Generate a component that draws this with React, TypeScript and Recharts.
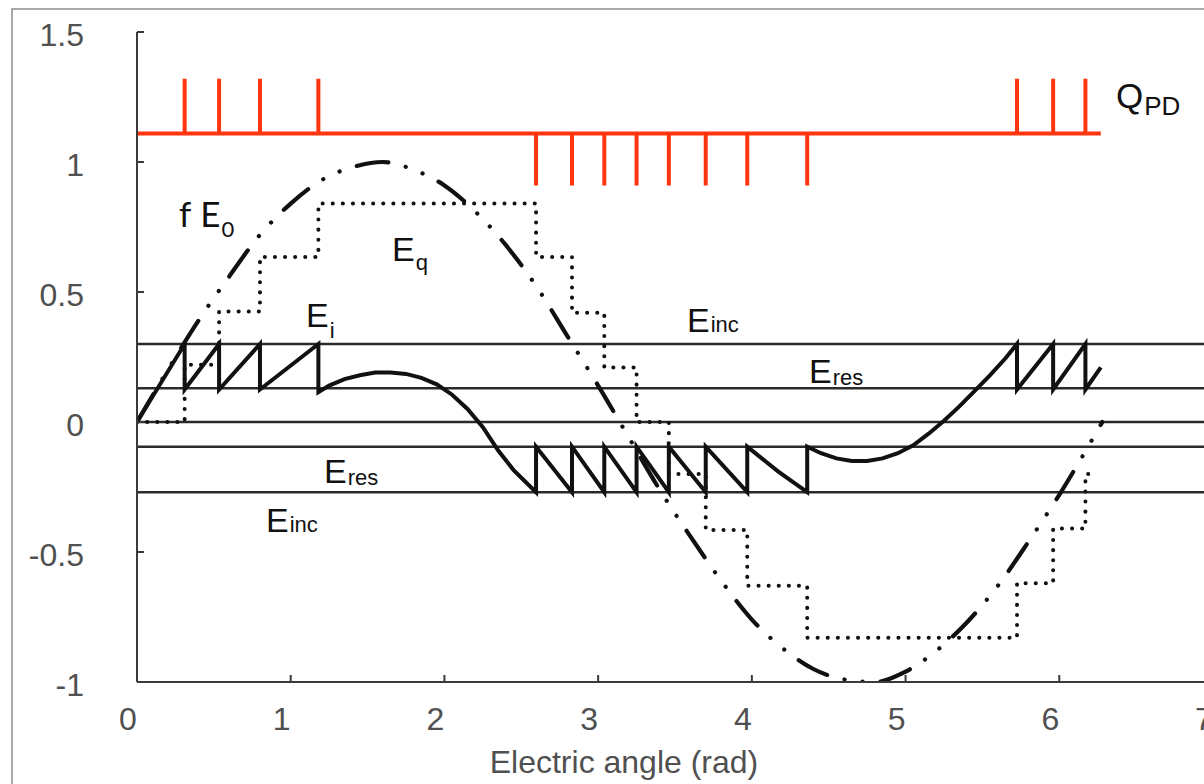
import { LineChart, Line, XAxis, YAxis, ReferenceLine } from 'recharts'

const xTicks = [0, 1, 2, 3, 4, 5, 6, 7]
const yTicks = [-1, -0.5, 0, 0.5, 1, 1.5]

// horizontal threshold lines: Einc, Eres, 0, -Eres, -Einc
const levels = [0.3, 0.13, 0, -0.095, -0.27]

// E0, the applied field (dash-dot-dot)
const e0X = [0, 0.2, 0.4, 0.6, 0.8, 1.0, 1.2, 1.4, 1.6, 1.8, 2.0, 2.2, 2.4, 2.6, 2.8, 3.0, 3.2, 3.4, 3.6, 3.8, 4.0, 4.2, 4.4, 4.6, 4.8, 5.0, 5.2, 5.4, 5.6, 5.8, 6.0, 6.28]
const e0Y = [0, 0.2, 0.39, 0.56, 0.72, 0.84, 0.93, 0.98, 1.0, 0.97, 0.91, 0.81, 0.68, 0.52, 0.33, 0.14, -0.06, -0.26, -0.44, -0.61, -0.76, -0.87, -0.95, -0.99, -1.0, -0.96, -0.88, -0.77, -0.63, -0.46, -0.28, 0]

// Eq, field of the deposited charge (dotted steps)
const eqX = [0, 0.31, 0.31, 0.534, 0.534, 0.8, 0.8, 1.18, 1.18, 2.596, 2.596, 2.83, 2.83, 3.04, 3.04, 3.25, 3.25, 3.46, 3.46, 3.7, 3.7, 3.97, 3.97, 4.36, 4.36, 5.725, 5.725, 5.96, 5.96, 6.17, 6.17, 6.23]
const eqY = [0, 0, 0.22, 0.22, 0.425, 0.425, 0.635, 0.635, 0.84, 0.84, 0.635, 0.635, 0.42, 0.42, 0.21, 0.21, 0, 0, -0.2, -0.2, -0.415, -0.415, -0.63, -0.63, -0.83, -0.83, -0.62, -0.62, -0.41, -0.41, -0.2, -0.2]

// Ei, field in the void (solid sawtooth)
const eiX = [0, 0.31, 0.31, 0.534, 0.534, 0.8, 0.8, 1.18, 1.18, 1.25, 1.35, 1.45, 1.55, 1.65, 1.75, 1.85, 1.95, 2.05, 2.15, 2.25, 2.35, 2.45, 2.596, 2.596, 2.83, 2.83, 3.04, 3.04, 3.25, 3.25, 3.46, 3.46, 3.7, 3.7, 3.97, 3.97, 4.17, 4.36, 4.36, 4.45, 4.55, 4.65, 4.75, 4.85, 4.95, 5.05, 5.15, 5.25, 5.35, 5.45, 5.55, 5.65, 5.725, 5.725, 5.96, 5.96, 6.17, 6.17, 6.27]
const eiY = [0, 0.3, 0.125, 0.3, 0.125, 0.3, 0.125, 0.3, 0.115, 0.14, 0.165, 0.18, 0.19, 0.19, 0.185, 0.17, 0.145, 0.105, 0.05, -0.02, -0.11, -0.185, -0.27, -0.095, -0.27, -0.095, -0.27, -0.095, -0.27, -0.095, -0.27, -0.095, -0.27, -0.095, -0.27, -0.095, -0.19, -0.27, -0.095, -0.12, -0.14, -0.15, -0.15, -0.14, -0.12, -0.09, -0.045, 0.005, 0.06, 0.12, 0.18, 0.245, 0.3, 0.125, 0.3, 0.125, 0.3, 0.125, 0.21]

// QPD pulse train
const qBase = 1.11
const qUpTip = 1.32
const qDownTip = 0.91
const qUp = [0.31, 0.534, 0.8, 1.18, 5.725, 5.96, 6.17]
const qDown = [2.596, 2.83, 3.04, 3.25, 3.46, 3.7, 3.97, 4.36]
const qEnd = 6.27

const zip = (xs: number[], ys: number[]) => xs.map((x, i) => ({ x, y: ys[i] }))

const e0Data = zip(e0X, e0Y)
const eqData = zip(eqX, eqY)
const eiData = zip(eiX, eiY)

const spikes = [
  ...qUp.map(x => ({ x, tip: qUpTip })),
  ...qDown.map(x => ({ x, tip: qDownTip })),
].sort((a, b) => a.x - b.x)

const qData = [
  { x: 0, y: qBase },
  ...spikes.flatMap(s => [{ x: s.x, y: qBase }, { x: s.x, y: s.tip }, { x: s.x, y: qBase }]),
  { x: qEnd, y: qBase },
]

const AXIS = '#3a3a3a'
const tickFont = { fill: '#505050', fontSize: 32, fontFamily: '"Liberation Sans", Arial, sans-serif' }
const labelFont = '"Liberation Sans", Arial, sans-serif'

function Sym({ x, y, sub, subDy = 0, subSize = 22 }: { x: number; y: number; sub: string; subDy?: number; subSize?: number }) {
  return (
    <text x={x} y={y} fontFamily={labelFont} fontSize={34} fill="#111">
      E
      <tspan fontSize={subSize} dy={subDy} dx={1}>{sub}</tspan>
    </text>
  )
}

export default function App() {
  return (
    <div style={{ position: 'fixed', left: 0, top: 0, width: 1204, height: 784, overflow: 'hidden', background: '#fff' }}>
      <div style={{ position: 'absolute', left: 11, top: 8, width: 1300, height: 900, border: '2px solid #a9a9a9' }} />
      <div style={{ position: 'absolute', left: 0, top: 0 }}>
        <LineChart width={1233} height={784} margin={{ top: 32, right: 20, bottom: 42, left: 0 }}>
          <XAxis
            type="number"
            dataKey="x"
            domain={[0, 7]}
            ticks={xTicks}
            interval={0}
            allowDataOverflow
            height={60}
            tickSize={-7}
            tickMargin={32}
            stroke={AXIS}
            strokeWidth={2}
            tick={{ ...tickFont, dx: -9 }}
          />
          <XAxis
            xAxisId="top"
            orientation="top"
            type="number"
            domain={[0, 7]}
            ticks={xTicks}
            interval={0}
            height={0}
            tickSize={-7}
            tickFormatter={() => ''}
            stroke={AXIS}
            strokeWidth={2}
          />
          <YAxis
            type="number"
            domain={[-1, 1.5]}
            ticks={yTicks}
            interval={0}
            allowDataOverflow
            width={137}
            tickSize={-7}
            tickMargin={60}
            stroke={AXIS}
            strokeWidth={2}
            tick={{ ...tickFont, dy: 3 }}
            tickFormatter={(v: number) => String(v)}
          />
          {levels.map(v => (
            <ReferenceLine key={v} y={v} stroke="#2a2a2a" strokeWidth={2.4} />
          ))}
          <Line
            data={eqData}
            dataKey="y"
            type="linear"
            stroke="#111"
            strokeWidth={4}
            strokeDasharray="0.1 10"
            strokeLinecap="round"
            dot={false}
            activeDot={false}
            isAnimationActive={false}
          />
          <Line
            data={e0Data}
            dataKey="y"
            type="monotone"
            stroke="#111"
            strokeWidth={4.2}
            strokeDasharray="32 18 0.1 18 0.1 18"
            strokeLinecap="round"
            dot={false}
            activeDot={false}
            isAnimationActive={false}
          />
          <Line
            data={eiData}
            dataKey="y"
            type="linear"
            stroke="#111"
            strokeWidth={4}
            strokeLinejoin="miter"
            dot={false}
            activeDot={false}
            isAnimationActive={false}
          />
          <Line
            data={qData}
            dataKey="y"
            type="linear"
            stroke="#ff3510"
            strokeWidth={4}
            dot={false}
            activeDot={false}
            isAnimationActive={false}
          />
        </LineChart>
      </div>
      <svg width={1204} height={784} style={{ position: 'absolute', left: 0, top: 0, pointerEvents: 'none' }}>
        <text x={1116} y={108} fontFamily={labelFont} fontSize={35} fill="#111">
          Q
          <tspan fontSize={26} dy={7} dx={1}>PD</tspan>
        </text>
        <text x={179} y={227} fontFamily="Lato, 'Noto Sans', sans-serif" fontSize={35} fill="#111">
          f
          <tspan dx={9}>E</tspan>
          <tspan fontSize={22} dy={10} dx={1}>0</tspan>
        </text>
        <Sym x={392} y={261} sub="q" subDy={9} />
        <Sym x={306} y={327} sub="i" subDy={11} />
        <Sym x={687} y={332} sub="inc" />
        <Sym x={809} y={383} sub="res" subDy={2} />
        <Sym x={324} y={483} sub="res" subDy={2} />
        <Sym x={266} y={532} sub="inc" />
        <text x={624} y={773} textAnchor="middle" fontFamily={labelFont} fontSize={32} fill="#505050">
          Electric angle (rad)
        </text>
      </svg>
    </div>
  )
}
